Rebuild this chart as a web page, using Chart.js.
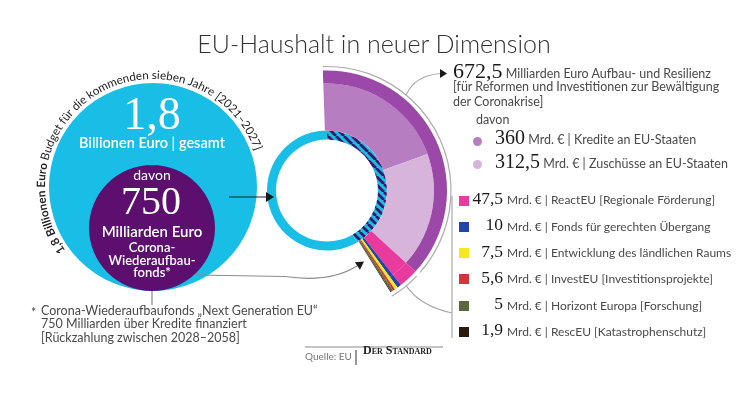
<!DOCTYPE html>
<html lang="de">
<head>
<meta charset="utf-8">
<script src="https://cdn.jsdelivr.net/npm/chart.js@4"></script>
<style>
  html, body { margin: 0; padding: 0; background: #fff; }
  #wrap { position: relative; width: 750px; height: 393px; overflow: hidden;
          font-family: Lato, 'Open Sans', sans-serif; color: #4a4a4a; }
  canvas { position: absolute; left: 0; top: 0; }
  .t { position: absolute; white-space: nowrap; line-height: 1; }
  .num { font-family: 'Liberation Serif', serif; color: #1a1a1a; line-height: 0; }
  .w { color: #fff; }
</style>
</head>
<body>
<div id="wrap">
  <canvas id="big" width="750" height="393"></canvas>
  <canvas id="fund" width="750" height="393"></canvas>
  <canvas id="main" width="750" height="393"></canvas>
  <div id="labels"></div>
</div>
<script>
// Mrd. Euro
const totalBudget = 1800;
const recoveryFund = 750;

const fundLabels = ['Aufbau und Resilienz', 'ReactEU [Regionale Förderung]', 'Fonds für gerechten Übergang',
    'Entwicklung des ländlichen Raums', 'InvestEU [Investitionsprojekte]', 'Horizont Europa [Forschung]',
    'RescEU [Katastrophenschutz]'];
const fundValues = [672.5, 47.5, 10, 7.5, 5.6, 5, 1.9];
const fundColors = ['#9b48a9', '#e93a9e', '#2344a8', '#f6e81c', '#d5343a', '#5a683b', '#2b1a0c'];

const resilienceLabels = ['Kredite an EU-Staaten', 'Zuschüsse an EU-Staaten'];
const resilienceValues = [360, 312.5];
const resilienceColors = ['#b67dc0', '#d7b5db'];

const cyan = '#19bee7';
const darkPurple = '#5c0f6f';
const fmt = v => String(v).replace('.', ',');

Chart.defaults.animation = false;
Chart.defaults.events = [];
Chart.defaults.plugins.legend.display = false;
Chart.defaults.plugins.tooltip.enabled = false;

function hatch() {
    const c = document.createElement('canvas');
    c.width = c.height = 8;
    const g = c.getContext('2d');
    g.fillStyle = cyan;
    g.fillRect(0, 0, 8, 8);
    g.strokeStyle = '#3e1669';
    g.lineWidth = 2.8;
    g.beginPath();
    for (const o of [-8, 0, 8]) {
        g.moveTo(o, 0);
        g.lineTo(o + 8, 8);
    }
    g.stroke();
    return g.createPattern(c, 'repeat');
}

function arrowHead(ctx, x, y, ang, len, half) {
    ctx.save();
    ctx.translate(x, y);
    ctx.rotate(ang);
    ctx.beginPath();
    ctx.moveTo(0, 0);
    ctx.lineTo(-len, -half);
    ctx.lineTo(-len, half);
    ctx.closePath();
    ctx.fill();
    ctx.restore();
}

// text written round the big circle, fitted between two angles
const arcText = {
    id: 'arcText',
    afterDatasetsDraw(chart) {
        const el = chart.getDatasetMeta(0).data[0];
        const ctx = chart.ctx;
        const r = el.outerRadius + 4;
        const from = -126 * Math.PI / 180;
        const to = 70 * Math.PI / 180;
        const parts = [
            ['bold', fmt(totalBudget / 1000) + ' Billionen Euro '],
            ['normal', 'Budget für die kommenden sieben Jahre [2021–2027]'],
        ];
        let total = 0;
        for (const [weight, text] of parts) {
            ctx.font = weight + ' 10px Lato, sans-serif';
            total += ctx.measureText(text).width;
        }
        const size = 10 * (to - from) * r / total;
        let ang = from;
        ctx.save();
        ctx.translate(el.x, el.y);
        ctx.fillStyle = '#222';
        ctx.textAlign = 'center';
        for (const [weight, text] of parts) {
            ctx.font = weight + ' ' + size + 'px Lato, sans-serif';
            for (const ch of text) {
                const w = ctx.measureText(ch).width;
                ctx.save();
                ctx.rotate(ang + w / 2 / r);
                ctx.fillText(ch, 0, -r);
                ctx.restore();
                ang += w / r;
            }
        }
        ctx.restore();
    },
};

// brackets, pointers and arrows
const connectors = {
    id: 'connectors',
    afterDatasetsDraw(chart) {
        const ctx = chart.ctx;
        const band = chart.getDatasetMeta(0).data;
        const {x: cx, y: cy, outerRadius} = band[0];
        const r = outerRadius + 4;
        const gap = 0.02;
        const last = band[band.length - 1];
        ctx.save();
        ctx.strokeStyle = '#ababab';
        ctx.fillStyle = '#1a1a1a';
        ctx.lineWidth = 1.2;

        ctx.beginPath();
        ctx.arc(cx, cy, r, band[0].startAngle, band[0].endAngle - gap);
        ctx.stroke();
        ctx.beginPath();
        ctx.arc(cx, cy, r, band[1].startAngle + gap, last.endAngle + 0.01);
        ctx.stroke();

        // to the 672,5 text
        const a1 = band[0].startAngle + 0.31 * (band[0].endAngle - band[0].startAngle);
        ctx.beginPath();
        ctx.moveTo(cx + r * Math.cos(a1), cy + r * Math.sin(a1));
        ctx.quadraticCurveTo(414, 76, 440, 73.5);
        ctx.stroke();
        arrowHead(ctx, 447, 73.5, 0, 7, 4.5);

        // to the small funds list
        const a2 = (band[1].startAngle + last.endAngle) / 2;
        ctx.beginPath();
        ctx.moveTo(cx + r * Math.cos(a2), cy + r * Math.sin(a2));
        ctx.quadraticCurveTo(420, 306, 452, 313);
        ctx.moveTo(452, 196);
        ctx.lineTo(452, 338);
        ctx.stroke();

        // from the big circle to the ring
        ctx.strokeStyle = '#222';
        ctx.beginPath();
        ctx.moveTo(229, 197);
        ctx.lineTo(267, 197);
        ctx.stroke();
        arrowHead(ctx, 274, 197, 0, 8, 5);

        // from the fund circle to the small slices
        ctx.strokeStyle = '#8a8a8a';
        ctx.beginPath();
        ctx.moveTo(196, 275);
        ctx.lineTo(285, 276.5);
        ctx.quadraticCurveTo(330, 283, 357, 266);
        ctx.moveTo(152, 291);
        ctx.lineTo(152, 305);
        ctx.moveTo(305, 347);
        ctx.lineTo(443, 347);
        ctx.stroke();
        ctx.strokeStyle = '#555';
        ctx.beginPath();
        ctx.moveTo(356, 350);
        ctx.lineTo(356, 365);
        ctx.stroke();
        arrowHead(ctx, 364, 261.5, -0.6, 8, 4.5);
        ctx.restore();
    },
};

// big circle: whole budget
new Chart(document.getElementById('big'), {
    type: 'pie',
    data: {labels: ['gesamt'], datasets: [{data: [totalBudget], backgroundColor: [cyan], borderWidth: 0}]},
    options: {
        responsive: false,
        layout: {padding: {left: 49, top: 83, right: 493, bottom: 102}},
    },
    plugins: [arcText],
});

// inner circle: recovery fund
new Chart(document.getElementById('fund'), {
    type: 'pie',
    data: {labels: ['Corona-Wiederaufbaufonds'], datasets: [{data: [recoveryFund], backgroundColor: [darkPurple], borderWidth: 0}]},
    options: {
        responsive: false,
        layout: {padding: {left: 89, top: 165, right: 535, bottom: 102}},
    },
});

// fan of the recovery fund plus the budget ring
new Chart(document.getElementById('main'), {
    type: 'doughnut',
    data: {
        labels: fundLabels,
        datasets: [
            {
                data: fundValues,
                backgroundColor: fundColors,
                borderWidth: 0,
                weight: 13,
                rotation: -2,
                circumference: 150,
            },
            {
                data: [...resilienceValues, ...fundValues.slice(1)],
                backgroundColor: [...resilienceColors, ...fundColors.slice(1)],
                borderWidth: 0,
                weight: 47,
                rotation: -2,
                circumference: 150,
            },
            {
                data: [recoveryFund, totalBudget - recoveryFund],
                backgroundColor: [hatch(), cyan],
                borderWidth: 0,
                weight: 9,
                rotation: 0,
                circumference: 360,
            },
        ],
    },
    options: {
        responsive: false,
        cutout: '42.5%',
        layout: {padding: {left: 207, top: 70.5, right: 303, bottom: 82.5}},
    },
    plugins: [connectors],
});

// texts
const box = document.getElementById('labels');
function put(html, x, base, size, opts = {}) {
    const d = document.createElement('div');
    d.className = 't ' + (opts.cls || '');
    d.innerHTML = html;
    d.style.fontSize = size + 'px';
    d.style.top = (base - 0.887 * size) + 'px';
    if (opts.weight) d.style.fontWeight = opts.weight;
    if (opts.color) d.style.color = opts.color;
    if (opts.align === 'center') {
        d.style.left = x + 'px';
        d.style.transform = 'translateX(-50%)';
    } else if (opts.align === 'right') {
        d.style.right = (750 - x) + 'px';
    } else {
        d.style.left = x + 'px';
    }
    box.appendChild(d);
    return d;
}
const num = (v, size) => `<span class="num" style="font-size:${size}px">${fmt(v)}</span>`;

put('EU-Haushalt in neuer Dimension', 374, 53, 25, {align: 'center', weight: 300, color: '#333'});

put(num(totalBudget / 1000, 46), 152, 126, 14, {align: 'center', cls: 'w'});
put('Billionen Euro | gesamt', 152, 149, 14.5, {align: 'center', cls: 'w', weight: 600});
put('davon', 152, 180, 14, {align: 'center', cls: 'w'});
put(num(recoveryFund, 40), 151, 213, 14, {align: 'center', cls: 'w'});
put('Milliarden Euro', 152, 237, 15, {align: 'center', cls: 'w', weight: 600});
put('Corona-', 152, 253, 13, {align: 'center', cls: 'w', weight: 600});
put('Wiederaufbau-', 152, 266, 13, {align: 'center', cls: 'w', weight: 600});
put('fonds*', 152, 278, 13, {align: 'center', cls: 'w', weight: 600});
document.querySelectorAll('.w .num').forEach(s => s.style.color = '#fff');

put('*', 31, 318, 12.5);
put('Corona-Wiederaufbaufonds „Next Generation EU“', 41, 316, 12.5);
put('750 Milliarden über Kredite finanziert', 41, 329.5, 12.5);
put('[Rückzahlung zwischen 2028–2058]', 41, 343, 12.5);

put(num(fundValues[0], 22) + ' Milliarden Euro Aufbau- und Resilienz', 453, 79, 12.5);
put('[für Reformen und Investitionen zur Bewältigung', 453, 92, 12.5);
put('der Coronakrise]', 453, 107, 12.5);
put('davon', 476, 125, 12.5);

resilienceValues.forEach((v, i) => {
    const base = 145.5 + i * 23.5;
    const dot = document.createElement('div');
    dot.style.cssText = `position:absolute;left:472.5px;top:${base - 9}px;width:9px;height:9px;border-radius:50%;background:${resilienceColors[i]}`;
    box.appendChild(dot);
    put(num(v, 20) + ' Mrd. € | ' + resilienceLabels[i], 495, base, 12.5);
});

fundValues.slice(1).forEach((v, i) => {
    const base = 205 + i * 26.3;
    const sq = document.createElement('div');
    sq.style.cssText = `position:absolute;left:459px;top:${base - 9.5}px;width:10px;height:10px;background:${fundColors[i + 1]}`;
    box.appendChild(sq);
    put(num(v, 17.5), 503, base, 12.5, {align: 'right'});
    put('Mrd. € | ' + fundLabels[i + 1], 507, base, 12);
});

put('Quelle: EU', 305, 360, 10, {color: '#777'});
put('<span style="font-variant:small-caps">Der Standard</span>', 363, 360.5, 12,
    {weight: 700, color: '#222', cls: 'num'});
</script>
</body>
</html>
